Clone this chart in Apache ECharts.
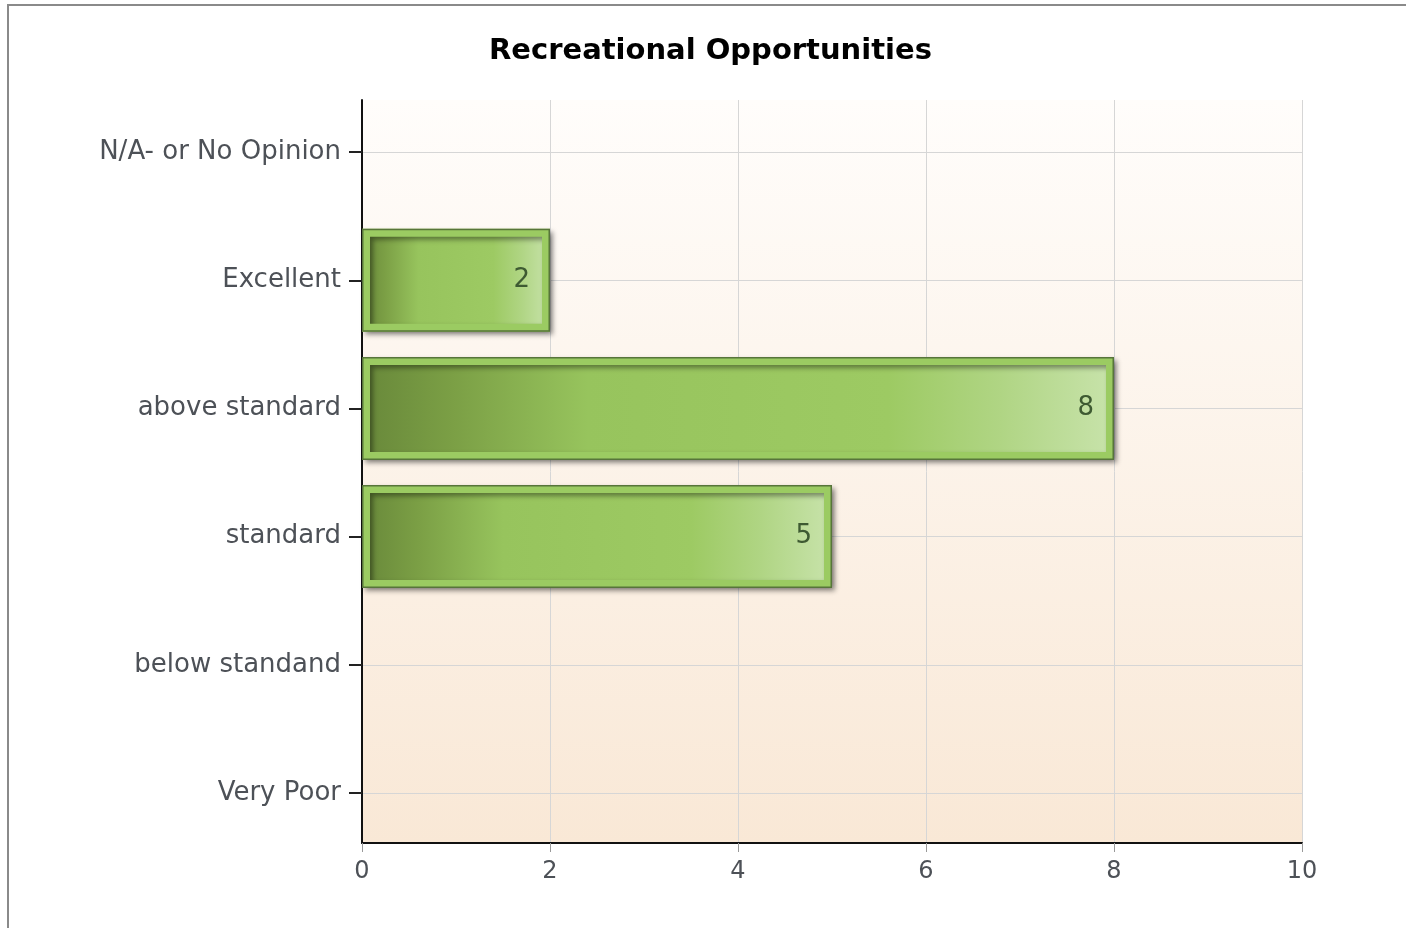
<!DOCTYPE html>
<html>
<head>
<meta charset="utf-8">
<script src="https://cdn.jsdelivr.net/npm/echarts@6/dist/echarts.min.js"></script>
<style>
html, body { margin: 0; padding: 0; background: #fff; }
#chart { width: 1406px; height: 928px; }
</style>
</head>
<body>
<div id="chart"></div>
<script>
// categories listed top to bottom as in the picture
var categories = ['N/A- or No Opinion', 'Excellent', 'above standard', 'standard', 'below standand', 'Very Poor'];
var counts = [0, 2, 8, 5, 0, 0];
var xTicks = { min: 0, max: 10, interval: 2 };

var myChart = echarts.init(document.getElementById('chart'));

var barFill = new echarts.graphic.LinearGradient(0, 0, 1, 0, [
    { offset: 0, color: '#68883a' },
    { offset: 0.12, color: '#7b9f45' },
    { offset: 0.3, color: '#97c45d' },
    { offset: 0.7, color: '#9dca63' },
    { offset: 0.85, color: '#b0d584' },
    { offset: 1, color: '#c8e3ab' }
]);

// zero bars get no border so nothing is drawn on the axis
var fillData = counts.map(function (v) {
    if (v) return v;
    return { value: v, itemStyle: { borderWidth: 0, shadowBlur: 0, shadowOffsetX: 0, shadowOffsetY: 0 } };
});
var edgeData = counts.map(function (v) {
    if (v) return v;
    return { value: v, itemStyle: { borderWidth: 0 } };
});

var labelFont = 'DejaVu Sans';

var option = {
    backgroundColor: '#fff',
    title: {
        text: 'Recreational Opportunities',
        left: 489,
        top: 37,
        padding: 0,
        textStyle: { fontFamily: labelFont, fontWeight: 'bold', fontSize: 29, color: '#000' }
    },
    graphic: [{
        type: 'rect',
        shape: { x: 8, y: 5, width: 1500, height: 1000 },
        style: { fill: 'none', stroke: '#8a8a8a', lineWidth: 2 },
        silent: true
    }],
    grid: [
        {
            left: 362, right: 104, top: 100, bottom: 85,
            show: true,
            borderWidth: 0,
            backgroundColor: new echarts.graphic.LinearGradient(0, 0, 0, 1, [
                { offset: 0, color: '#fffdfb' },
                { offset: 1, color: '#f9e8d6' }
            ])
        },
        { left: 362, right: 104, top: 88, bottom: 71 }
    ],
    xAxis: [
        {
            type: 'value',
            gridIndex: 0,
            min: xTicks.min,
            max: xTicks.max,
            interval: xTicks.interval,
            axisLine: { show: true, lineStyle: { color: '#111', width: 2 } },
            axisTick: { show: true, length: 9, lineStyle: { color: '#999', width: 1 } },
            axisLabel: { margin: 17, fontFamily: labelFont, fontSize: 24, color: '#4d5157' },
            splitLine: { show: true, lineStyle: { color: '#d6d6d6', width: 1 } }
        },
        {
            type: 'value',
            gridIndex: 1,
            min: xTicks.min,
            max: xTicks.max,
            show: false
        }
    ],
    yAxis: [
        {
            type: 'category',
            gridIndex: 0,
            inverse: true,
            data: categories,
            axisLine: { show: true, lineStyle: { color: '#111', width: 2 } },
            axisTick: { show: false },
            axisLabel: { show: false },
            splitLine: { show: false }
        },
        {
            type: 'category',
            gridIndex: 1,
            inverse: true,
            data: categories,
            axisLine: { show: false },
            axisTick: { show: true, alignWithLabel: true, length: 13, lineStyle: { color: '#222', width: 2 } },
            axisLabel: { margin: 21, fontFamily: labelFont, fontSize: 26, color: '#4d5157' },
            splitLine: { show: true, alignWithLabel: true, lineStyle: { color: '#d6d6d6', width: 1 } }
        }
    ],
    series: [
        {
            name: 'fill',
            type: 'bar',
            xAxisIndex: 1,
            yAxisIndex: 1,
            barWidth: 103,
            barGap: '-100%',
            silent: true,
            itemStyle: {
                color: barFill,
                borderColor: '#9bcb62',
                borderWidth: 8,
                shadowColor: 'rgba(0,0,0,0.4)',
                shadowBlur: 5,
                shadowOffsetX: 3,
                shadowOffsetY: 3
            },
            label: {
                show: true,
                position: 'insideRight',
                distance: 20,
                fontFamily: labelFont,
                fontSize: 26,
                color: '#3e5a32',
                formatter: function (p) { return p.value ? String(p.value) : ''; }
            },
            data: fillData
        },
        {
            name: 'edge',
            type: 'bar',
            xAxisIndex: 1,
            yAxisIndex: 1,
            barWidth: 103,
            barGap: '-100%',
            silent: true,
            itemStyle: {
                color: 'rgba(0,0,0,0)',
                borderColor: '#57753a',
                borderWidth: 1.5
            },
            data: edgeData
        }
    ]
};

option && myChart.setOption(option);
</script>
</body>
</html>
